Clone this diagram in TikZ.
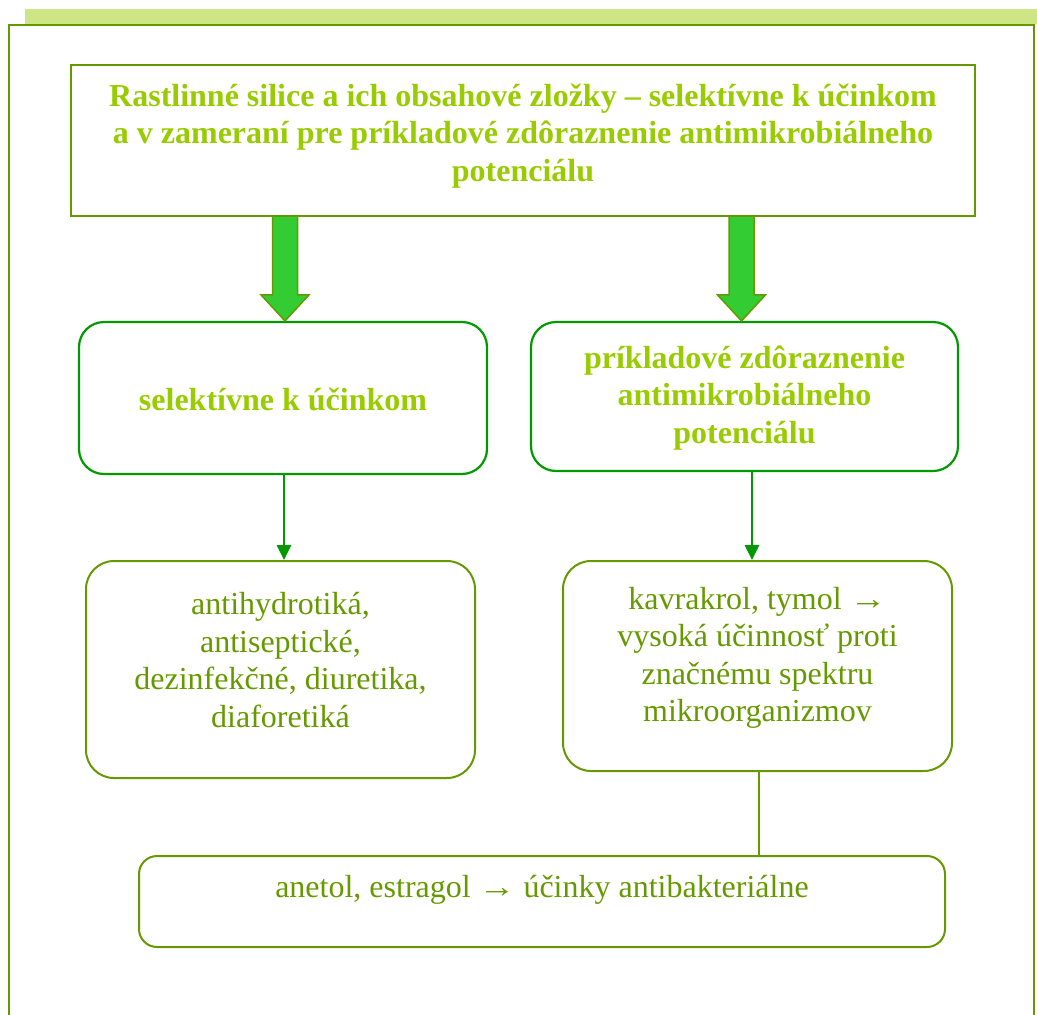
\documentclass[tikz,border=0pt]{standalone}
\usepackage{fontspec}
\setmainfont{Liberation Serif}
\usetikzlibrary{arrows.meta,calc}
\definecolor{olive}{HTML}{669900}
\definecolor{lime}{HTML}{99CC00}
\definecolor{band}{HTML}{CDE584}
\definecolor{grass}{HTML}{009900}
\definecolor{bright}{HTML}{33CC33}
% a slightly wider text arrow
\newcommand{\longarr}{\scalebox{1.15}[1]{→}}
\begin{document}
\begin{tikzpicture}[x=1pt,y=-1pt,
  titlebox/.style={draw=olive,line width=2.2pt,fill=white,inner sep=0pt},
  headbox/.style={draw=grass,line width=2.2pt,rounded corners=25pt,inner sep=0pt},
  itembox/.style={draw=olive,line width=2pt,rounded corners=28pt,inner sep=0pt},
  headtxt/.style={text=lime,font=\fontsize{32}{37.5}\selectfont\bfseries,align=center,inner sep=0pt},
  itemtxt/.style={text=olive,font=\fontsize{32}{37.5}\selectfont,align=center,inner sep=0pt},
  blockarrow/.style={draw=olive,line width=1.5pt,fill=bright,line join=miter},
  thinarrow/.style={draw=grass,line width=2.8pt,-{Triangle[width=14pt,length=15pt]}},
  joinline/.style={draw=olive,line width=2pt}]
\useasboundingbox (0,0) rectangle (1037,1015);
% page frame with its light band on top
\fill[band] (25,9) rectangle (1037,24);
\draw[olive,line width=1.5pt] (9,1030) -- (9,25) -- (1034,25) -- (1034,1030);
\draw[olive,line width=2.5pt] (9,25) -- (1034,25);

% title box
\node[titlebox,minimum width=904pt,minimum height=151pt] (title) at (523,140.5) {};
\node[headtxt] (titletxt) at (523,136) {Rastlinné silice a ich obsahové zložky – selektívne k účinkom\\a v zameraní pre príkladové zdôraznenie antimikrobiálneho\\potenciálu};

% second row
\node[headbox,minimum width=408pt,minimum height=152pt] (sel) at (283,398) {};
\node[headtxt] at (283,399) {selektívne k účinkom};
\node[headbox,minimum width=427pt,minimum height=149pt] (anti) at (744.5,396.5) {};
\node[headtxt] at (744.5,398) {príkladové zdôraznenie\\antimikrobiálneho\\potenciálu};

% block arrows from the title box
\foreach \cx/\tgt in {285/sel,741.5/anti}{
  \coordinate (tip) at (\tgt.north -| \cx,0);
  \coordinate (root) at (title.south -| \cx,0);
  \draw[blockarrow] ($(root)+(-12.5,0)$) -- ($(tip)+(-12.5,-26)$) -- ($(tip)+(-24,-26)$) -- (tip)
    -- ($(tip)+(24,-26)$) -- ($(tip)+(12.5,-26)$) -- ($(root)+(12.5,0)$);
}

% third row
\node[itembox,minimum width=389pt,minimum height=217pt] (effects) at (280.5,669.5) {};
\node[itemtxt] at (280.5,660) {antihydrotiká,\\antiseptické,\\dezinfekčné, diuretika,\\diaforetiká};
\node[itembox,minimum width=389pt,minimum height=210pt] (phenols) at (757.5,666) {};
\node[itemtxt] at (757.5,658) {kavrakrol, tymol \longarr\\vysoká účinnosť proti\\značnému spektru\\mikroorganizmov};

% thin arrows
\coordinate (selout) at ($(sel.south)+(1,0)$);
\coordinate (antiout) at ($(anti.south)+(7.5,0)$);
\draw[thinarrow] (selout) -- (selout |- effects.north);
\draw[thinarrow] (antiout) -- (antiout |- phenols.north);

% bottom box
\node[itembox,rounded corners=18pt,minimum width=806pt,minimum height=91pt] (anetol) at (542,901.5) {};
\node[itemtxt] at (542,890) {anetol, estragol \longarr{} účinky antibakteriálne};
\coordinate (phenout) at (759,0 |- phenols.south);
\draw[joinline] (phenout) -- (phenout |- anetol.north);
\end{tikzpicture}
\end{document}
